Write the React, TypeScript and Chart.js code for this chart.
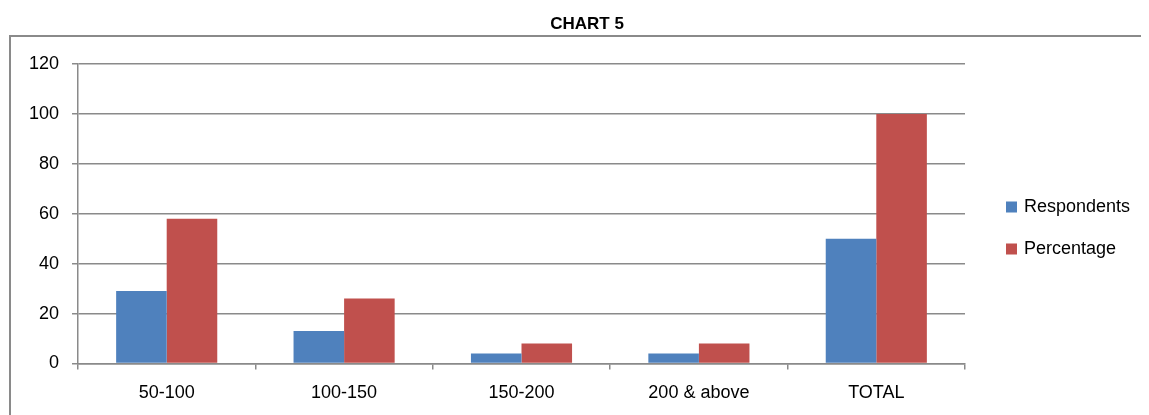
import React, { useEffect, useRef } from "react";
import { Chart, registerables } from "chart.js";

Chart.register(...registerables);

const categories = ["50-100", "100-150", "150-200", "200 & above", "TOTAL"];
const respondents = [29, 13, 4, 4, 50];
const percentage = [58, 26, 8, 8, 100];
const seriesNames = ["Respondents", "Percentage"];
const seriesColors = ["#4F81BD", "#C0504D"];
const chartTitle = "CHART 5";
const yMin = 0;
const yMax = 120;
const yStep = 20;

const FONT = "'Liberation Sans', Arial, sans-serif";
const GRID = "#8a8a8a";

const framePlugin = {
  id: "frame",
  beforeDraw(chart: any) {
    const ctx = chart.ctx;
    const w = chart.width;
    const h = chart.height;
    ctx.save();
    ctx.strokeStyle = GRID;
    ctx.lineWidth = 2;
    ctx.beginPath();
    ctx.moveTo(w + 5, 28);
    ctx.lineTo(2, 28);
    ctx.lineTo(2, h + 5);
    ctx.stroke();
    ctx.fillStyle = "#000";
    ctx.font = `bold 17px ${FONT}`;
    ctx.textAlign = "center";
    ctx.textBaseline = "middle";
    ctx.fillText(chartTitle, 579, 16);
    ctx.restore();
  },
  afterDraw(chart: any) {
    const ctx = chart.ctx;
    ctx.save();
    ctx.font = `18px ${FONT}`;
    ctx.textBaseline = "middle";
    ctx.textAlign = "left";
    const ys = [199, 241];
    chart.data.datasets.forEach((ds: any, i: number) => {
      ctx.fillStyle = ds.backgroundColor;
      ctx.fillRect(998, ys[i] - 5.5, 11, 11);
      ctx.fillStyle = "#000";
      ctx.fillText(ds.label, 1016, ys[i]);
    });
    ctx.restore();
  },
};

export default function App() {
  const ref = useRef<HTMLCanvasElement | null>(null);
  useEffect(() => {
    const prev = document.body.style.overflow;
    document.body.style.overflow = "hidden";
    if (!ref.current) return;
    const chart = new Chart(ref.current, {
      type: "bar",
      data: {
        labels: categories,
        datasets: [
          { label: seriesNames[0], data: respondents, backgroundColor: seriesColors[0], borderWidth: 0 },
          { label: seriesNames[1], data: percentage, backgroundColor: seriesColors[1], borderWidth: 0 },
        ],
      },
      options: {
        animation: false,
        responsive: false,
        maintainAspectRatio: false,
        devicePixelRatio: 1,
        datasets: { bar: { categoryPercentage: 0.57, barPercentage: 1 } },
        layout: { padding: { left: 0, right: 184, top: 56, bottom: 8 } },
        plugins: {
          legend: { display: false },
          title: { display: false },
          tooltip: { enabled: false },
        },
        scales: {
          x: {
            grid: {
              offset: true,
              drawOnChartArea: false,
              drawTicks: true,
              tickLength: 6,
              color: GRID,
              lineWidth: 1.5,
            },
            border: { color: GRID, width: 1.5 },
            ticks: { color: "#000", font: { family: FONT, size: 18 }, padding: 13, maxRotation: 0 },
            afterFit(scale: any) {
              scale.height = 43.5;
            },
          },
          y: {
            min: yMin,
            max: yMax,
            ticks: { stepSize: yStep, color: "#000", font: { family: FONT, size: 18 }, padding: 13 },
            grid: { color: GRID, lineWidth: 1.5, tickLength: 6 },
            border: { color: GRID, width: 1.5 },
            afterFit(scale: any) {
              scale.width = 70;
            },
          },
        },
      },
      plugins: [framePlugin],
    });
    return () => {
      chart.destroy();
      document.body.style.overflow = prev;
    };
  }, []);
  return (
    <div style={{ position: "relative", width: 1141, height: 407 }}>
      <canvas ref={ref} width={1141} height={407} style={{ display: "block" }} />
    </div>
  );
}
